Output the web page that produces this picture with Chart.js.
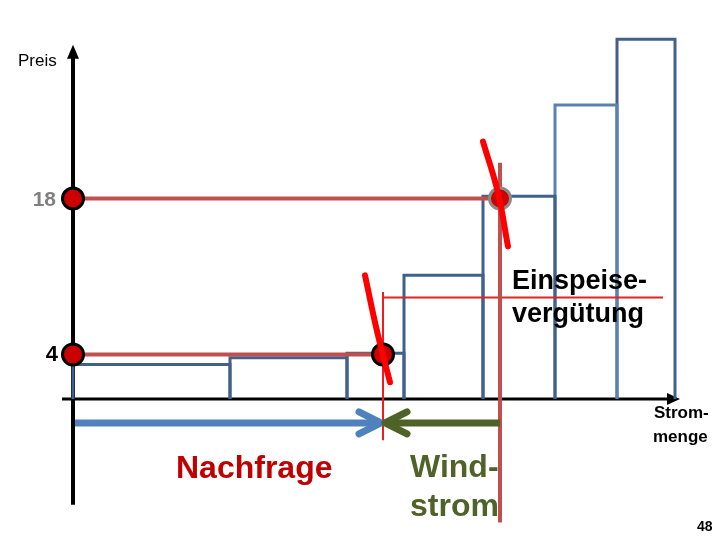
<!DOCTYPE html>
<html>
<head>
<meta charset="utf-8">
<script src="https://cdn.jsdelivr.net/npm/chart.js@4.4.1/dist/chart.umd.min.js"></script>
<style>
    html, body { margin: 0; padding: 0; background: #ffffff; }
    #wrap { width: 720px; height: 540px; }
</style>
</head>
<body>
<div id="wrap"><canvas id="meritChart" width="720" height="540"></canvas></div>
<script>
// Stufen der Angebotskurve (Merit-Order): Kanten der Mengenblöcke und Preise
const blockEdges = [0, 15.7, 27.4, 33.1, 41.0, 48.2, 54.4, 60.2];
const blockPrices = [3.1, 3.7, 4.1, 11.1, 18.2, 26.4, 32.3];
const blockColors = ['#42618a', '#42618a', '#42618a', '#42618a', '#42618a', '#5a82ae', '#42618a'];

// Preise auf der Achse und Gleichgewichtsmengen
const priceTicks = [4, 18];
const priceLabels = ['4', '18'];
const equilibriumQty = [31.0, 42.7];
const feedInTariff = 9.1;

// Nachfragekurven (fast senkrecht)
const demandLowX = [29.2, 30.4, 31.7];
const demandLowY = [11.1, 6.1, 1.5];
const demandHighX = [41.0, 42.5, 43.5];
const demandHighY = [23.1, 18.5, 13.7];

// Achsenbereich
const axisQtyMax = 60.7;
const axisPriceMax = 31.8;
const axisPriceMin = -9.5;

// Pfeile unter der Achse
const arrowPrice = -2.15;
const demandArrow = [0.2, 30.8];
const windArrow = [42.7, 31.2];

function toPoints(xs, ys) {
    return xs.map((x, i) => ({ x: x, y: ys[i] }));
}

const datasets = [];

// (DE) Nachfragekurven oben | (EN) demand curves on top
[[demandLowX, demandLowY], [demandHighX, demandHighY]].forEach(pair => {
    datasets.push({
        data: toPoints(pair[0], pair[1]),
        showLine: true,
        borderColor: '#ff0000',
        borderWidth: 6,
        borderCapStyle: 'round',
        tension: 0.4,
        pointRadius: 0,
        order: 0
    });
});

// (DE) Punkte | (EN) dots
datasets.push({
    data: [
        { x: 0, y: priceTicks[0] },
        { x: 0, y: priceTicks[1] },
        { x: equilibriumQty[0], y: priceTicks[0] }
    ],
    showLine: false,
    pointRadius: 10.5,
    pointBackgroundColor: '#cc0000',
    pointBorderColor: '#000000',
    pointBorderWidth: 3,
    order: 1
});
datasets.push({
    data: [{ x: equilibriumQty[1], y: priceTicks[1] }],
    showLine: false,
    pointRadius: 10.5,
    pointBackgroundColor: '#cc0000',
    pointBorderColor: '#8a8a8a',
    pointBorderWidth: 3,
    order: 1
});

// (DE) Preislinien | (EN) price lines
priceTicks.forEach((p, i) => {
    datasets.push({
        data: [{ x: 0, y: p }, { x: equilibriumQty[i], y: p }],
        showLine: true,
        borderColor: '#c0504d',
        borderWidth: 4,
        pointRadius: 0,
        order: 2
    });
});

// (DE) Senkrechte bei Windstrom-Menge | (EN) vertical at wind quantity
datasets.push({
    data: [{ x: equilibriumQty[1], y: 21.2 }, { x: equilibriumQty[1], y: -11.1 }],
    showLine: true,
    borderColor: '#c0504d',
    borderWidth: 4,
    pointRadius: 0,
    order: 2
});
datasets.push({
    data: [{ x: equilibriumQty[0], y: 9.6 }, { x: equilibriumQty[0], y: -3.7 }],
    showLine: true,
    borderColor: '#ee1c1c',
    borderWidth: 2,
    pointRadius: 0,
    order: 2
});
// (DE) Einspeisevergütung | (EN) feed-in tariff
datasets.push({
    data: [{ x: equilibriumQty[0], y: feedInTariff }, { x: 59.0, y: feedInTariff }],
    showLine: true,
    borderColor: '#e02424',
    borderWidth: 2,
    pointRadius: 0,
    order: 2
});

// (DE) Angebotsblöcke | (EN) supply blocks
blockPrices.forEach((p, i) => {
    const x0 = blockEdges[i], x1 = blockEdges[i + 1];
    datasets.push({
        data: [{ x: x0, y: 0 }, { x: x0, y: p }, { x: x1, y: p }, { x: x1, y: 0 }],
        showLine: true,
        borderColor: blockColors[i],
        borderWidth: 3,
        pointRadius: 0,
        order: 3
    });
});

function arrowHead(ctx, tipX, tipY, dir, color) {
    ctx.save();
    ctx.strokeStyle = color;
    ctx.lineWidth = 7;
    ctx.lineCap = 'round';
    ctx.lineJoin = 'round';
    ctx.beginPath();
    ctx.moveTo(tipX - dir * 22, tipY - 11);
    ctx.lineTo(tipX, tipY);
    ctx.lineTo(tipX - dir * 22, tipY + 11);
    ctx.stroke();
    ctx.restore();
}

const diagramPlugin = {
    id: 'diagram',
    beforeDatasetsDraw(chart) {
        const ctx = chart.ctx;
        const xs = chart.scales.x, ys = chart.scales.y;
        const x0 = xs.getPixelForValue(0), y0 = ys.getPixelForValue(0);
        const yTop = ys.getPixelForValue(axisPriceMax);
        const yBot = ys.getPixelForValue(axisPriceMin);
        const xEnd = xs.getPixelForValue(axisQtyMax);
        ctx.save();
        ctx.strokeStyle = '#000';
        ctx.fillStyle = '#000';
        // (DE) Preis-Achse | (EN) price axis
        ctx.lineWidth = 4;
        ctx.beginPath();
        ctx.moveTo(x0, yBot);
        ctx.lineTo(x0, yTop + 8);
        ctx.stroke();
        ctx.beginPath();
        ctx.moveTo(x0, yTop);
        ctx.lineTo(x0 - 6, yTop + 14);
        ctx.lineTo(x0 + 6, yTop + 14);
        ctx.closePath();
        ctx.fill();
        // (DE) Mengen-Achse | (EN) quantity axis
        ctx.lineWidth = 3;
        ctx.beginPath();
        ctx.moveTo(x0 - 11, y0);
        ctx.lineTo(xEnd - 6, y0);
        ctx.stroke();
        ctx.beginPath();
        ctx.moveTo(xEnd, y0);
        ctx.lineTo(xEnd - 13, y0 - 6);
        ctx.lineTo(xEnd - 13, y0 + 6);
        ctx.closePath();
        ctx.fill();
        ctx.restore();
    },
    afterDatasetsDraw(chart) {
        const ctx = chart.ctx;
        const xs = chart.scales.x, ys = chart.scales.y;
        const ay = ys.getPixelForValue(arrowPrice);

        // (DE) Nachfrage-Pfeil | (EN) demand arrow
        ctx.save();
        ctx.lineWidth = 7;
        ctx.strokeStyle = '#4f81bd';
        ctx.beginPath();
        ctx.moveTo(xs.getPixelForValue(demandArrow[0]), ay);
        ctx.lineTo(xs.getPixelForValue(demandArrow[1]) - 4, ay);
        ctx.stroke();
        arrowHead(ctx, xs.getPixelForValue(demandArrow[1]), ay, 1, '#4f81bd');
        // (DE) Windstrom-Pfeil | (EN) wind arrow
        ctx.strokeStyle = '#4f6228';
        ctx.beginPath();
        ctx.moveTo(xs.getPixelForValue(windArrow[0]), ay);
        ctx.lineTo(xs.getPixelForValue(windArrow[1]) + 4, ay);
        ctx.stroke();
        arrowHead(ctx, xs.getPixelForValue(windArrow[1]), ay, -1, '#4f6228');

        // (DE) Texte | (EN) labels
        ctx.textBaseline = 'middle';
        ctx.fillStyle = '#000';
        ctx.font = '17px "Liberation Sans", Arial, sans-serif';
        ctx.textAlign = 'left';
        ctx.fillText('Preis', 18, 61);

        ctx.textAlign = 'right';
        ctx.font = 'bold 22px "Liberation Sans", Arial, sans-serif';
        ctx.fillText(priceLabels[0], 58, ys.getPixelForValue(priceTicks[0]) + 1);
        ctx.fillStyle = '#808080';
        ctx.font = 'bold 21px "Liberation Sans", Arial, sans-serif';
        ctx.fillText(priceLabels[1], 56, ys.getPixelForValue(priceTicks[1]) + 2);

        ctx.textAlign = 'left';
        ctx.fillStyle = '#000';
        ctx.font = 'bold 27px "Liberation Sans", Arial, sans-serif';
        const ty = ys.getPixelForValue(feedInTariff);
        ctx.fillText('Einspeise-', 512, ty - 16);
        ctx.fillText('vergütung', 512, ty + 17);

        ctx.font = 'bold 17px "Liberation Sans", Arial, sans-serif';
        ctx.fillText('Strom-', 654, 413);
        ctx.fillText('menge', 653, 437);

        ctx.fillStyle = '#c00000';
        ctx.font = 'bold 32px "Liberation Sans", Arial, sans-serif';
        ctx.fillText('Nachfrage', 176, 469);

        ctx.fillStyle = '#4f6228';
        ctx.font = 'bold 32px "Liberation Sans", Arial, sans-serif';
        ctx.fillText('Wind-', 410, 468);
        ctx.fillText('strom', 410, 507);

        ctx.fillStyle = '#000';
        ctx.font = 'bold 14px "Liberation Sans", Arial, sans-serif';
        ctx.fillText('48', 697, 527);
        ctx.restore();
    }
};

new Chart(document.getElementById('meritChart').getContext('2d'), {
    type: 'scatter',
    data: { datasets: datasets },
    options: {
        responsive: false,
        animation: false,
        devicePixelRatio: 1,
        layout: { padding: 0, autoPadding: false },
        plugins: { legend: { display: false }, tooltip: { enabled: false } },
        elements: { line: { fill: false } },
        scales: {
            x: { type: 'linear', min: -7.3, max: 64.7, display: false },
            y: { type: 'linear', min: -12.66, max: 35.82, display: false }
        }
    },
    plugins: [diagramPlugin]
});
</script>
</body>
</html>
